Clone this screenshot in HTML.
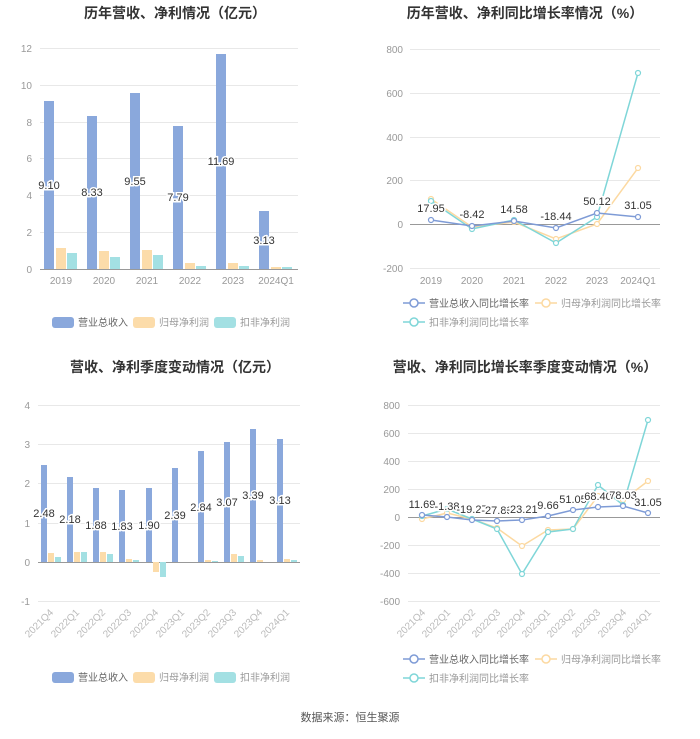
<!DOCTYPE html>
<html><head><meta charset="utf-8"><style>
body{margin:0;background:#fff;}
svg text{font-family:"Liberation Sans","Noto Sans CJK SC",sans-serif;}
</style></head><body>
<svg width="700" height="734" xmlns="http://www.w3.org/2000/svg">
<rect width="700" height="734" fill="#fff"/>
<g font-weight="bold" font-size="14" fill="#333" text-anchor="middle">
<text x="175" y="18">历年营收、净利情况（亿元）</text>
<text x="525" y="18">历年营收、净利同比增长率情况（%）</text>
<text x="175" y="372">营收、净利季度变动情况（亿元）</text>
<text x="525" y="372">营收、净利同比增长率季度变动情况（%）</text>
</g>
<text x="350" y="721" font-size="11" fill="#555" text-anchor="middle">数据来源：恒生聚源</text>
<g id="c1">
<g stroke="#e8e8e8" stroke-width="1">
<line x1="40" x2="298" y1="48.5" y2="48.5"/><line x1="40" x2="298" y1="85.5" y2="85.5"/><line x1="40" x2="298" y1="122.5" y2="122.5"/><line x1="40" x2="298" y1="158.5" y2="158.5"/><line x1="40" x2="298" y1="195.5" y2="195.5"/><line x1="40" x2="298" y1="232.5" y2="232.5"/>
</g>
<line x1="40" x2="298" y1="269.5" y2="269.5" stroke="#999"/>
<g font-size="10" fill="#999" text-anchor="end">
<text x="32" y="52">12</text><text x="32" y="89">10</text><text x="32" y="126">8</text><text x="32" y="162">6</text><text x="32" y="199">4</text><text x="32" y="236">2</text><text x="32" y="273">0</text>
</g>
<g font-size="10" fill="#999" text-anchor="middle">
<text x="61" y="284">2019</text><text x="104" y="284">2020</text><text x="147" y="284">2021</text><text x="190" y="284">2022</text><text x="233" y="284">2023</text><text x="276" y="284">2024Q1</text>
</g>
<g fill="#8aa8dc">
<rect x="44" y="101" width="10" height="168"/><rect x="87" y="116" width="10" height="153"/><rect x="130" y="93" width="10" height="176"/><rect x="173" y="126" width="10" height="143"/><rect x="216" y="54" width="10" height="215"/><rect x="259" y="211" width="10" height="58"/>
</g>
<g fill="#fcdcaa">
<rect x="56" y="248" width="10" height="21"/><rect x="99" y="251" width="10" height="18"/><rect x="142" y="250" width="10" height="19"/><rect x="185" y="263" width="10" height="6"/><rect x="228" y="263" width="10" height="6"/><rect x="271" y="267" width="10" height="2"/>
</g>
<g fill="#a3e0e3">
<rect x="67" y="253" width="10" height="16"/><rect x="110" y="257" width="10" height="12"/><rect x="153" y="255" width="10" height="14"/><rect x="196" y="266" width="10" height="3"/><rect x="239" y="266" width="10" height="3"/><rect x="282" y="267" width="10" height="2"/>
</g>
<g font-size="11" fill="#333" text-anchor="middle" stroke="#fff" stroke-width="3" paint-order="stroke">
<text x="49" y="189">9.10</text><text x="92" y="196">8.33</text><text x="135" y="185">9.55</text><text x="178" y="201">7.79</text><text x="221" y="165">11.69</text><text x="264" y="244">3.13</text>
</g>
<g font-size="10" fill="#666">
<rect x="52" y="317" width="22" height="11" rx="3" fill="#8aa8dc"/><text x="78" y="326">营业总收入</text>
<rect x="133" y="317" width="22" height="11" rx="3" fill="#fcdcaa"/><text x="159" y="326" fill="#999">归母净利润</text>
<rect x="214" y="317" width="22" height="11" rx="3" fill="#a3e0e3"/><text x="240" y="326" fill="#999">扣非净利润</text>
</g>
</g>
<g id="c2">
<g stroke="#e8e8e8">
<line x1="410" x2="660" y1="49.5" y2="49.5"/><line x1="410" x2="660" y1="93.5" y2="93.5"/><line x1="410" x2="660" y1="137.5" y2="137.5"/><line x1="410" x2="660" y1="180.5" y2="180.5"/><line x1="410" x2="660" y1="268.5" y2="268.5"/>
</g>
<line x1="410" x2="660" y1="224.5" y2="224.5" stroke="#999"/>
<g font-size="10" fill="#999" text-anchor="end">
<text x="403" y="53">800</text><text x="403" y="97">600</text><text x="403" y="141">400</text><text x="403" y="184">200</text><text x="403" y="228">0</text><text x="403" y="272">-200</text>
</g>
<g font-size="10" fill="#999" text-anchor="middle">
<text x="431" y="284">2019</text><text x="472" y="284">2020</text><text x="514" y="284">2021</text><text x="556" y="284">2022</text><text x="597" y="284">2023</text><text x="638" y="284">2024Q1</text>
</g>
<polyline fill="none" stroke="#fcd9a1" stroke-width="1.5" points="431,199 472,227 514,222 556,239 597,224 638,168"/>
<polyline fill="none" stroke="#7fd6d8" stroke-width="1.5" points="431,201 472,229 514,220 556,243 597,217 638,73"/>
<polyline fill="none" stroke="#7e9bd6" stroke-width="1.5" points="431,220 472,226 514,221 556,228 597,213 638,217"/>
<g fill="#fff" stroke-width="1.2">
<g stroke="#fcd9a1"><circle cx="431" cy="199" r="2.5"/><circle cx="472" cy="227" r="2.5"/><circle cx="514" cy="222" r="2.5"/><circle cx="556" cy="239" r="2.5"/><circle cx="597" cy="224" r="2.5"/><circle cx="638" cy="168" r="2.5"/></g>
<g stroke="#7fd6d8"><circle cx="431" cy="201" r="2.5"/><circle cx="472" cy="229" r="2.5"/><circle cx="514" cy="220" r="2.5"/><circle cx="556" cy="243" r="2.5"/><circle cx="597" cy="217" r="2.5"/><circle cx="638" cy="73" r="2.5"/></g>
<g stroke="#7e9bd6"><circle cx="431" cy="220" r="2.5"/><circle cx="472" cy="226" r="2.5"/><circle cx="514" cy="221" r="2.5"/><circle cx="556" cy="228" r="2.5"/><circle cx="597" cy="213" r="2.5"/><circle cx="638" cy="217" r="2.5"/></g>
</g>
<g font-size="11" fill="#333" text-anchor="middle" stroke="#fff" stroke-width="3" paint-order="stroke">
<text x="431" y="212">17.95</text><text x="472" y="218">-8.42</text><text x="514" y="213">14.58</text><text x="556" y="220">-18.44</text><text x="597" y="205">50.12</text><text x="638" y="209">31.05</text>
</g>
<g font-size="10">
<line x1="403" x2="425" y1="303" y2="303" stroke="#7e9bd6" stroke-width="1.5"/><circle cx="414" cy="303" r="4" fill="#fff" stroke="#7e9bd6" stroke-width="1.5"/><text x="429" y="307" fill="#666">营业总收入同比增长率</text>
<line x1="535" x2="557" y1="303" y2="303" stroke="#fcd9a1" stroke-width="1.5"/><circle cx="546" cy="303" r="4" fill="#fff" stroke="#fcd9a1" stroke-width="1.5"/><text x="561" y="307" fill="#999">归母净利润同比增长率</text>
<line x1="403" x2="425" y1="322" y2="322" stroke="#7fd6d8" stroke-width="1.5"/><circle cx="414" cy="322" r="4" fill="#fff" stroke="#7fd6d8" stroke-width="1.5"/><text x="429" y="326" fill="#999">扣非净利润同比增长率</text>
</g>
</g>
<g id="c3">
<g stroke="#e8e8e8">
<line x1="38" x2="300" y1="405.5" y2="405.5"/><line x1="38" x2="300" y1="444.5" y2="444.5"/><line x1="38" x2="300" y1="483.5" y2="483.5"/><line x1="38" x2="300" y1="523.5" y2="523.5"/><line x1="38" x2="300" y1="601.5" y2="601.5"/>
</g>
<line x1="38" x2="300" y1="562.5" y2="562.5" stroke="#999"/>
<g font-size="10" fill="#999" text-anchor="end">
<text x="30" y="409">4</text><text x="30" y="448">3</text><text x="30" y="487">2</text><text x="30" y="527">1</text><text x="30" y="566">0</text><text x="30" y="605">-1</text>
</g>
<g font-size="10" fill="#bbb" text-anchor="end">
<text transform="translate(54,613) rotate(-45)">2021Q4</text><text transform="translate(80,613) rotate(-45)">2022Q1</text><text transform="translate(106,613) rotate(-45)">2022Q2</text><text transform="translate(132,613) rotate(-45)">2022Q3</text><text transform="translate(159,613) rotate(-45)">2022Q4</text><text transform="translate(185,613) rotate(-45)">2023Q1</text><text transform="translate(211,613) rotate(-45)">2023Q2</text><text transform="translate(237,613) rotate(-45)">2023Q3</text><text transform="translate(263,613) rotate(-45)">2023Q4</text><text transform="translate(290,613) rotate(-45)">2024Q1</text>
</g>
<g fill="#8aa8dc">
<rect x="41" y="465" width="6" height="97"/><rect x="67" y="477" width="6" height="85"/><rect x="93" y="488" width="6" height="74"/><rect x="119" y="490" width="6" height="72"/><rect x="146" y="488" width="6" height="74"/><rect x="172" y="468" width="6" height="94"/><rect x="198" y="451" width="6" height="111"/><rect x="224" y="442" width="6" height="120"/><rect x="250" y="429" width="6" height="133"/><rect x="277" y="439" width="6" height="123"/>
</g>
<g fill="#fcdcaa">
<rect x="48" y="553" width="6" height="9"/><rect x="74" y="552" width="6" height="10"/><rect x="100" y="552" width="6" height="10"/><rect x="126" y="559" width="6" height="3"/><rect x="153" y="562" width="6" height="10"/><rect x="205" y="560" width="6" height="2"/><rect x="231" y="554" width="6" height="8"/><rect x="257" y="560" width="6" height="2"/><rect x="284" y="559" width="6" height="3"/>
</g>
<g fill="#a3e0e3">
<rect x="55" y="557" width="6" height="5"/><rect x="81" y="552" width="6" height="10"/><rect x="107" y="554" width="6" height="8"/><rect x="133" y="560" width="6" height="2"/><rect x="160" y="562" width="6" height="15"/><rect x="212" y="561" width="6" height="1"/><rect x="238" y="556" width="6" height="6"/><rect x="291" y="560" width="6" height="2"/>
</g>
<g font-size="11" fill="#333" text-anchor="middle" stroke="#fff" stroke-width="3" paint-order="stroke">
<text x="44" y="517">2.48</text><text x="70" y="523">2.18</text><text x="96" y="529">1.88</text><text x="122" y="530">1.83</text><text x="149" y="529">1.90</text><text x="175" y="519">2.39</text><text x="201" y="511">2.84</text><text x="227" y="506">3.07</text><text x="253" y="499">3.39</text><text x="280" y="504">3.13</text>
</g>
<g font-size="10">
<rect x="52" y="672" width="22" height="11" rx="3" fill="#8aa8dc"/><text x="78" y="681" fill="#666">营业总收入</text>
<rect x="133" y="672" width="22" height="11" rx="3" fill="#fcdcaa"/><text x="159" y="681" fill="#999">归母净利润</text>
<rect x="214" y="672" width="22" height="11" rx="3" fill="#a3e0e3"/><text x="240" y="681" fill="#999">扣非净利润</text>
</g>
</g>
<g id="c4">
<g stroke="#e8e8e8">
<line x1="408" x2="660" y1="405.5" y2="405.5"/><line x1="408" x2="660" y1="433.5" y2="433.5"/><line x1="408" x2="660" y1="461.5" y2="461.5"/><line x1="408" x2="660" y1="489.5" y2="489.5"/><line x1="408" x2="660" y1="545.5" y2="545.5"/><line x1="408" x2="660" y1="573.5" y2="573.5"/><line x1="408" x2="660" y1="601.5" y2="601.5"/>
</g>
<line x1="408" x2="660" y1="517.5" y2="517.5" stroke="#999"/>
<g font-size="10" fill="#999" text-anchor="end">
<text x="400" y="409">800</text><text x="400" y="437">600</text><text x="400" y="465">400</text><text x="400" y="493">200</text><text x="400" y="521">0</text><text x="400" y="549">-200</text><text x="400" y="577">-400</text><text x="400" y="605">-600</text>
</g>
<g font-size="10" fill="#bbb" text-anchor="end">
<text transform="translate(426,613) rotate(-45)">2021Q4</text><text transform="translate(451,613) rotate(-45)">2022Q1</text><text transform="translate(476,613) rotate(-45)">2022Q2</text><text transform="translate(501,613) rotate(-45)">2022Q3</text><text transform="translate(526,613) rotate(-45)">2022Q4</text><text transform="translate(551,613) rotate(-45)">2023Q1</text><text transform="translate(576,613) rotate(-45)">2023Q2</text><text transform="translate(601,613) rotate(-45)">2023Q3</text><text transform="translate(627,613) rotate(-45)">2023Q4</text><text transform="translate(652,613) rotate(-45)">2024Q1</text>
</g>
<polyline fill="none" stroke="#fcd9a1" stroke-width="1.5" points="422,519 447,513 472,519 497,528 522,546 548,530 573,529 598,496 623,500 648,481"/>
<polyline fill="none" stroke="#7fd6d8" stroke-width="1.5" points="422,516 447,509 472,519 497,529 522,574 548,532 573,529 598,485 623,505 648,420"/>
<polyline fill="none" stroke="#7e9bd6" stroke-width="1.5" points="422,515 447,517 472,520 497,521 522,520 548,516 573,510 598,507 623,506 648,513"/>
<g fill="#fff" stroke-width="1.2">
<g stroke="#fcd9a1"><circle cx="422" cy="519" r="2.5"/><circle cx="447" cy="513" r="2.5"/><circle cx="472" cy="519" r="2.5"/><circle cx="497" cy="528" r="2.5"/><circle cx="522" cy="546" r="2.5"/><circle cx="548" cy="530" r="2.5"/><circle cx="573" cy="529" r="2.5"/><circle cx="598" cy="496" r="2.5"/><circle cx="623" cy="500" r="2.5"/><circle cx="648" cy="481" r="2.5"/></g>
<g stroke="#7fd6d8"><circle cx="422" cy="516" r="2.5"/><circle cx="447" cy="509" r="2.5"/><circle cx="472" cy="519" r="2.5"/><circle cx="497" cy="529" r="2.5"/><circle cx="522" cy="574" r="2.5"/><circle cx="548" cy="532" r="2.5"/><circle cx="573" cy="529" r="2.5"/><circle cx="598" cy="485" r="2.5"/><circle cx="623" cy="505" r="2.5"/><circle cx="648" cy="420" r="2.5"/></g>
<g stroke="#7e9bd6"><circle cx="422" cy="515" r="2.5"/><circle cx="447" cy="517" r="2.5"/><circle cx="472" cy="520" r="2.5"/><circle cx="497" cy="521" r="2.5"/><circle cx="522" cy="520" r="2.5"/><circle cx="548" cy="516" r="2.5"/><circle cx="573" cy="510" r="2.5"/><circle cx="598" cy="507" r="2.5"/><circle cx="623" cy="506" r="2.5"/><circle cx="648" cy="513" r="2.5"/></g>
</g>
<g font-size="11" fill="#333" text-anchor="middle" stroke="#fff" stroke-width="3" paint-order="stroke">
<text x="422" y="508">11.69</text><text x="447" y="510">-1.38</text><text x="472" y="513">-19.27</text><text x="497" y="514">-27.88</text><text x="522" y="513">-23.21</text><text x="548" y="509">9.66</text><text x="573" y="503">51.05</text><text x="598" y="500">68.40</text><text x="623" y="499">78.03</text><text x="648" y="506">31.05</text>
</g>
<g font-size="10">
<line x1="403" x2="425" y1="659" y2="659" stroke="#7e9bd6" stroke-width="1.5"/><circle cx="414" cy="659" r="4" fill="#fff" stroke="#7e9bd6" stroke-width="1.5"/><text x="429" y="663" fill="#666">营业总收入同比增长率</text>
<line x1="535" x2="557" y1="659" y2="659" stroke="#fcd9a1" stroke-width="1.5"/><circle cx="546" cy="659" r="4" fill="#fff" stroke="#fcd9a1" stroke-width="1.5"/><text x="561" y="663" fill="#999">归母净利润同比增长率</text>
<line x1="403" x2="425" y1="678" y2="678" stroke="#7fd6d8" stroke-width="1.5"/><circle cx="414" cy="678" r="4" fill="#fff" stroke="#7fd6d8" stroke-width="1.5"/><text x="429" y="682" fill="#999">扣非净利润同比增长率</text>
</g>
</g>
</svg>
</body></html>
